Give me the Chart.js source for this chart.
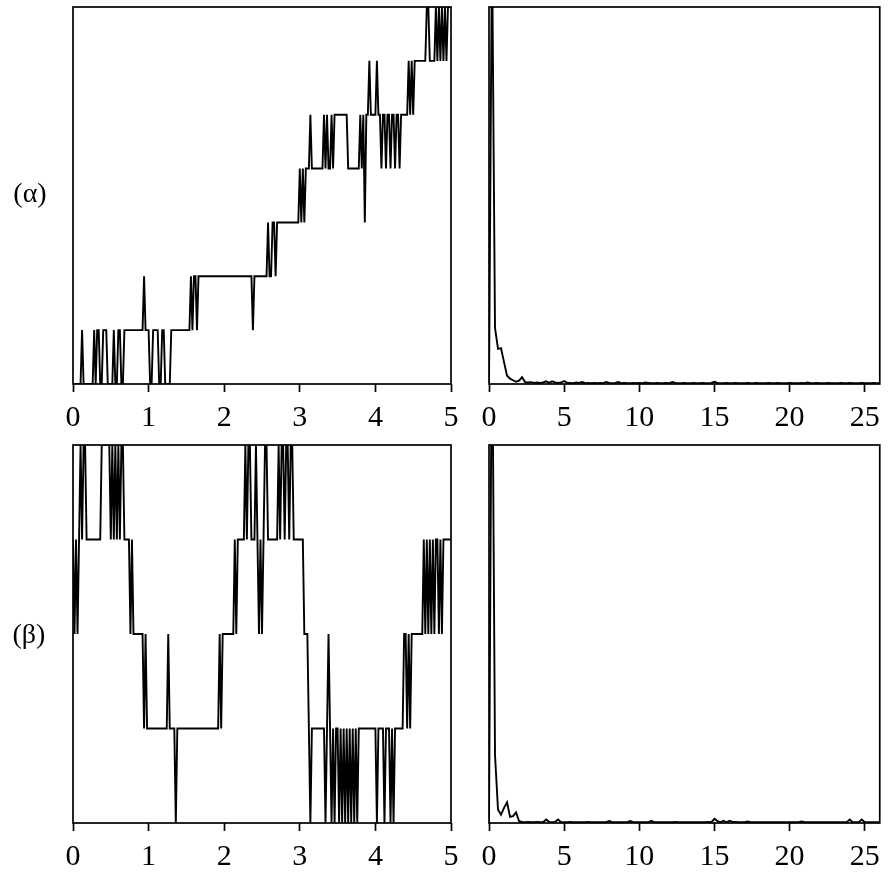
<!DOCTYPE html>
<html>
<head>
<meta charset="utf-8">
<script src="https://cdn.jsdelivr.net/npm/chart.js@4/dist/chart.umd.min.js"></script>
<style>
  html, body { margin: 0; padding: 0; background: #fff; }
  #wrap { position: relative; width: 888px; height: 876px; overflow: hidden; }
  canvas { position: absolute; }
  .row-label {
    position: absolute; width: 60px; text-align: center;
    font-family: "Liberation Serif", "DejaVu Serif", serif; font-size: 28px;
    line-height: 32px; color: #000;
  }
</style>
</head>
<body>
<div id="wrap">
  <canvas id="c1" width="470" height="440" style="left:0;top:0;width:470px;height:440px"></canvas>
  <canvas id="c2" width="418" height="440" style="left:470px;top:0;width:418px;height:440px"></canvas>
  <canvas id="c3" width="470" height="436" style="left:0;top:440px;width:470px;height:436px"></canvas>
  <canvas id="c4" width="418" height="436" style="left:470px;top:440px;width:418px;height:436px"></canvas>
  <div class="row-label" style="left:0;top:177px">(α)</div>
  <div class="row-label" style="left:-1px;top:618px">(β)</div>
</div>
<script>
// Quantised state sequences, one sample every 0.02 s over 0–5 s
const alphaStates = [
  0,0,0,0,0,0,1,0,0,0,
  0,0,0,0,1,0,1,1,0,0,
  1,1,1,0,0,0,0,1,0,0,
  1,1,0,0,1,1,1,1,1,1,
  1,1,1,1,1,1,1,2,1,1,
  1,0,0,1,1,1,1,0,0,1,
  1,0,0,0,0,1,1,1,1,1,
  1,1,1,1,1,1,1,1,2,1,
  2,2,1,2,2,2,2,2,2,2,
  2,2,2,2,2,2,2,2,2,2,
  2,2,2,2,2,2,2,2,2,2,
  2,2,2,2,2,2,2,2,2,1,
  2,2,2,2,2,2,2,2,2,3,
  2,2,3,3,2,3,3,3,3,3,
  3,3,3,3,3,3,3,3,3,3,
  4,3,4,3,4,4,4,5,4,4,
  4,4,4,4,4,4,5,4,5,4,
  4,5,4,5,5,5,5,5,5,5,
  5,5,4,4,4,4,4,4,4,4,
  5,4,5,3,5,5,6,5,5,5,
  5,6,5,5,4,5,5,4,5,5,
  4,5,5,4,5,5,4,5,5,5,
  5,5,6,5,6,5,6,6,6,6,
  6,6,6,6,7,7,6,6,6,6,
  7,6,7,6,7,6,7,6,7,7,
  7
];

const betaStates = [
  3,2,3,2,3,4,3,4,4,3,
  3,3,3,3,3,3,3,3,3,4,
  4,4,4,4,4,3,4,3,4,3,
  4,3,4,4,3,3,3,3,2,3,
  2,2,2,2,2,2,2,1,2,1,
  1,1,1,1,1,1,1,1,1,1,
  1,1,1,2,1,1,1,1,0,1,
  1,1,1,1,1,1,1,1,1,1,
  1,1,1,1,1,1,1,1,1,1,
  1,1,1,1,1,1,1,2,1,2,
  2,2,2,2,2,2,2,3,2,3,
  3,3,3,3,4,3,4,4,3,3,
  3,4,3,2,3,2,3,4,4,3,
  3,3,3,3,3,3,4,3,4,4,
  3,4,4,3,4,4,3,3,3,3,
  3,3,3,2,2,2,1,0,1,1,
  1,1,1,1,1,1,1,0,1,2,
  1,0,1,0,1,1,0,1,0,1,
  0,1,0,1,0,1,0,1,0,1,
  1,1,1,1,1,1,1,1,1,1,
  1,0,1,1,1,1,0,1,1,1,
  0,1,0,1,1,1,1,1,1,2,
  2,1,2,1,2,2,2,2,2,2,
  2,2,3,2,3,2,3,2,3,2,
  3,3,2,3,2,3,3,3,3,3,
  3
];

// Power spectra on a 0.2 Hz grid from 0 to 26 Hz (percent of panel height)
const alphaSpectrum = [
  0, 118, 14.9, 9.3, 9.5, 5.8, 2.2, 1.4, 1.0, 0.6,
  0.9, 1.8, 0.5, 0.4, 0.5, 0.3, 0.4, 0.3, 0.4, 0.7,
  0.3, 0.7, 0.4, 0.3, 0.4, 0.8, 0.3, 0.3, 0.2, 0.4,
  0.3, 0.5, 0.2, 0.3, 0.2, 0.3, 0.2, 0.3, 0.2, 0.5,
  0.3, 0.2, 0.3, 0.5, 0.2, 0.3, 0.2, 0.2, 0.3, 0.2,
  0.3, 0.2, 0.4, 0.3, 0.2, 0.2, 0.3, 0.2, 0.2, 0.3,
  0.2, 0.5, 0.3, 0.2, 0.2, 0.3, 0.2, 0.2, 0.3, 0.2,
  0.2, 0.3, 0.2, 0.2, 0.3, 0.6, 0.3, 0.2, 0.2, 0.3,
  0.2, 0.2, 0.3, 0.2, 0.2, 0.2, 0.3, 0.2, 0.2, 0.3,
  0.2, 0.2, 0.2, 0.3, 0.2, 0.2, 0.3, 0.2, 0.2, 0.2,
  0.3, 0.2, 0.2, 0.2, 0.3, 0.2, 0.4, 0.2, 0.2, 0.3,
  0.2, 0.2, 0.2, 0.3, 0.2, 0.2, 0.2, 0.3, 0.2, 0.2,
  0.3, 0.2, 0.2, 0.2, 0.3, 0.2, 0.2, 0.2, 0.3, 0.2,
  0.2
];

const betaSpectrum = [
  0, 140, 18, 3.5, 2.2, 4.0, 5.5, 1.6, 1.8, 2.8,
  0.5, 0.3, 0.2, 0.3, 0.2, 0.2, 0.3, 0.2, 0.2, 0.9,
  0.3, 0.2, 0.3, 0.9, 0.2, 0.2, 0.2, 0.3, 0.2, 0.2,
  0.2, 0.2, 0.2, 0.3, 0.2, 0.2, 0.2, 0.2, 0.2, 0.2,
  0.5, 0.2, 0.2, 0.2, 0.2, 0.2, 0.2, 0.5, 0.2, 0.2,
  0.2, 0.2, 0.2, 0.2, 0.6, 0.2, 0.2, 0.2, 0.2, 0.2,
  0.2, 0.2, 0.3, 0.2, 0.2, 0.2, 0.2, 0.2, 0.2, 0.2,
  0.2, 0.2, 0.2, 0.3, 0.2, 1.1, 0.5, 0.2, 0.6, 0.2,
  0.6, 0.3, 0.3, 0.2, 0.2, 0.2, 0.4, 0.2, 0.2, 0.2,
  0.2, 0.2, 0.2, 0.2, 0.2, 0.2, 0.2, 0.2, 0.2, 0.2,
  0.2, 0.2, 0.2, 0.2, 0.4, 0.2, 0.2, 0.2, 0.2, 0.2,
  0.2, 0.2, 0.2, 0.2, 0.2, 0.2, 0.2, 0.2, 0.2, 0.2,
  0.9, 0.2, 0.2, 0.2, 0.9, 0.2, 0.2, 0.2, 0.2, 0.2,
  0.2
];

const timeTicks = [0, 1, 2, 3, 4, 5];
const freqTicks = [0, 5, 10, 15, 20, 25];

const timeSpan = 5;      // seconds
const freqStep = 0.2;    // Hz per spectral bin
const freqMax = 26;

// Sample grids for the horizontal axes
const toTimePoints = vals => vals.map((v, i) => ({ x: i * timeSpan / (vals.length - 1), y: v }));
const toFreqPoints = vals => vals.map((v, i) => ({ x: +(i * freqStep).toFixed(2), y: v }));

const FONT = { family: "'Liberation Serif', 'DejaVu Serif', serif", size: 30 };
const LINE_W = 1.9;

// Draws the closed box around each plotting area
const framePlugin = {
  id: 'frame',
  afterDatasetsDraw(chart) {
    const { ctx, chartArea: a } = chart;
    ctx.save();
    ctx.strokeStyle = '#000';
    ctx.lineWidth = 1.7;
    ctx.strokeRect(a.left, a.top, a.right - a.left, a.bottom - a.top);
    ctx.restore();
  }
};

function makePanel(id, points, xMax, tickValues, step, yMax, pad, axisHeight) {
  new Chart(document.getElementById(id), {
    type: 'line',
    data: {
      datasets: [{
        data: points,
        borderColor: '#000',
        borderWidth: LINE_W,
        pointRadius: 0,
        tension: 0,
        fill: false
      }]
    },
    options: {
      responsive: false,
      maintainAspectRatio: false,
      animation: false,
      events: [],
      layout: { padding: pad },
      plugins: { legend: { display: false }, tooltip: { enabled: false } },
      scales: {
        x: {
          type: 'linear',
          min: 0,
          max: xMax,
          afterFit(scale) { scale.height = axisHeight; },
          afterBuildTicks(scale) { scale.ticks = tickValues.map(v => ({ value: v })); },
          border: { display: false },
          grid: {
            display: true,
            drawOnChartArea: false,
            drawTicks: true,
            tickLength: 8,
            tickWidth: 1.7,
            tickColor: '#000'
          },
          ticks: {
            stepSize: step,
            includeBounds: false,
            autoSkip: false,
            maxRotation: 0,
            padding: 8,
            color: '#000',
            font: FONT
          }
        },
        y: { display: false, min: 0, max: yMax }
      }
    },
    plugins: [framePlugin]
  });
}

makePanel('c1', toTimePoints(alphaStates), timeSpan, timeTicks, 1, 7,
  { left: 73, top: 7, right: 19, bottom: 0 }, 56);
makePanel('c2', toFreqPoints(alphaSpectrum), freqMax, freqTicks, 5, 100,
  { left: 19, top: 7, right: 7, bottom: 0 }, 56);
makePanel('c3', toTimePoints(betaStates), timeSpan, timeTicks, 1, 4,
  { left: 73, top: 5, right: 19, bottom: 0 }, 53);
makePanel('c4', toFreqPoints(betaSpectrum), freqMax, freqTicks, 5, 100,
  { left: 19, top: 5, right: 7, bottom: 0 }, 53);
</script>
</body>
</html>
